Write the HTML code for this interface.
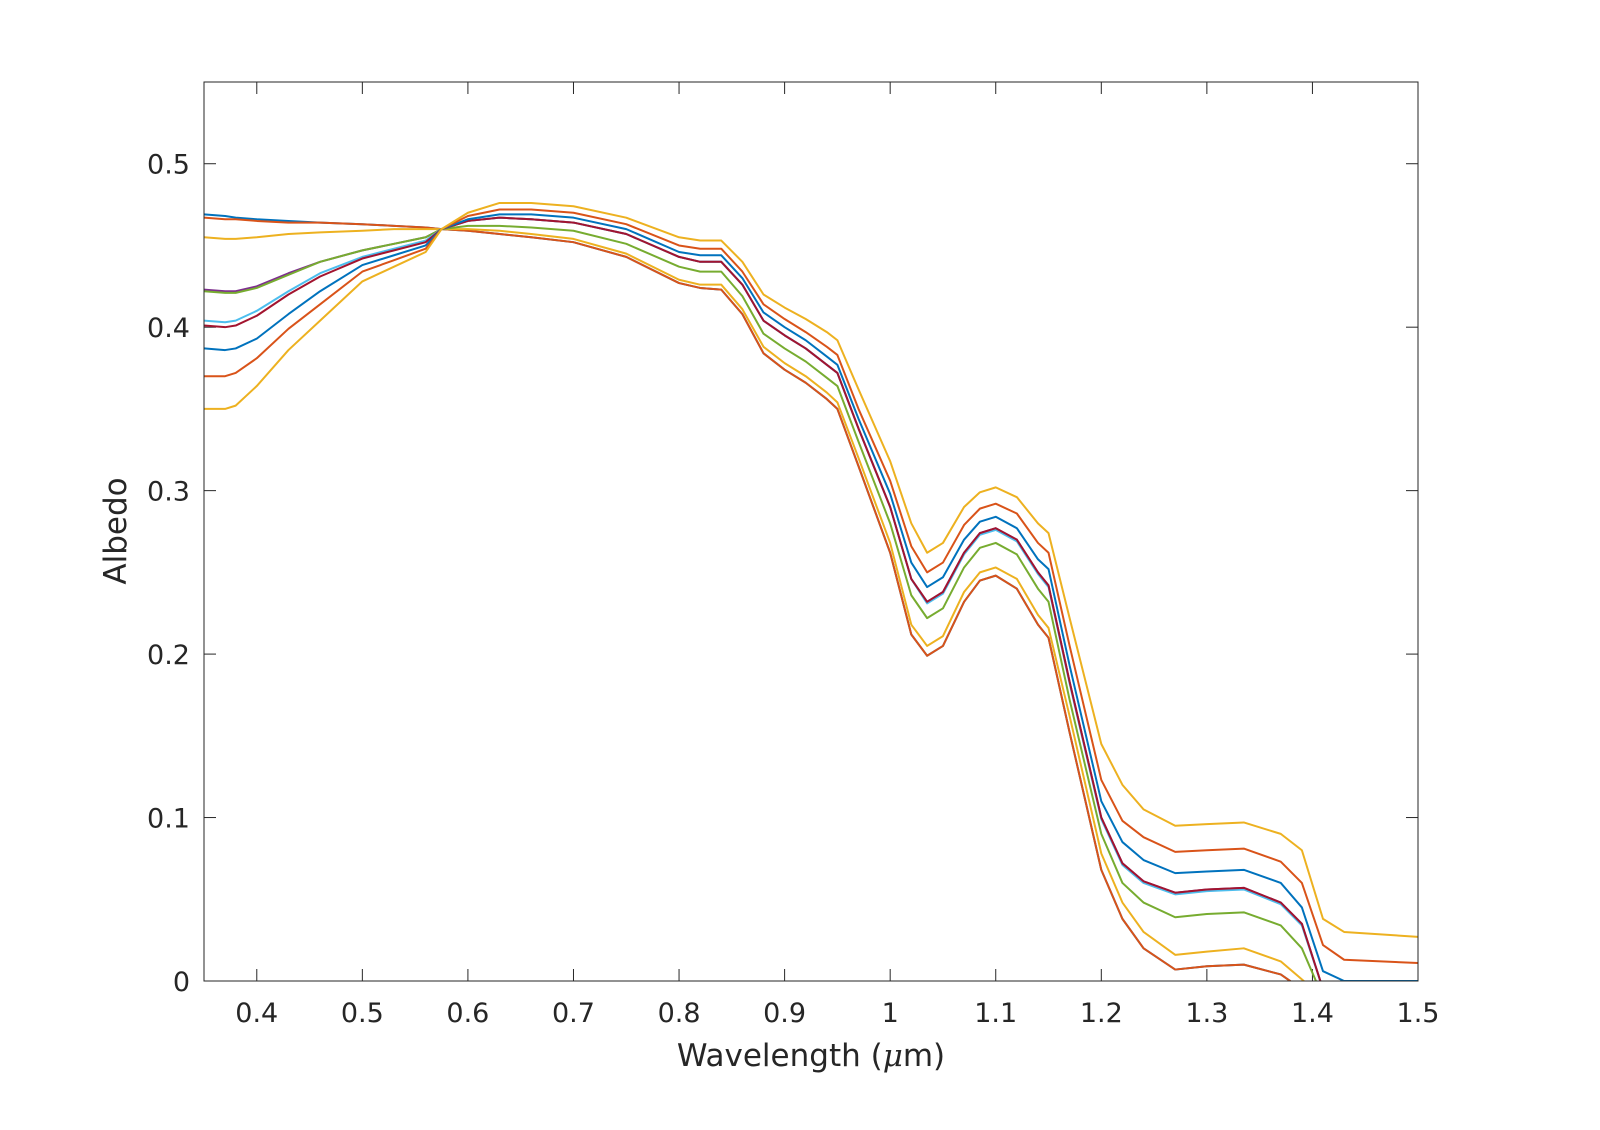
<!DOCTYPE html>
<html><head><meta charset="utf-8"><style>
html,body{margin:0;padding:0;background:#fff;}
svg text{font-family:"DejaVu Sans","Liberation Sans",sans-serif;fill:#262626;}
</style></head><body>
<svg id="chart" width="1600" height="1125" viewBox="0 0 1600 1125" xmlns="http://www.w3.org/2000/svg">
<defs><clipPath id="plotclip"><rect x="204" y="82" width="1214" height="899"/></clipPath></defs>
<rect x="0" y="0" width="1600" height="1125" fill="#fff"/>
<rect x="204" y="82" width="1214" height="899" fill="#fff"/>
<g id="grid-ticks"></g>
<g id="series" clip-path="url(#plotclip)"></g>
<rect x="204" y="82" width="1214" height="899" fill="none" stroke="#262626" stroke-width="1"/>
<g id="labels"></g>
<text x="811" y="1066" font-size="31" text-anchor="middle">Wavelength (<tspan font-style="italic" font-family="DejaVu Serif, serif">μ</tspan>m)</text>
<text x="0" y="0" font-size="31" text-anchor="middle" transform="translate(126,531) rotate(-90)">Albedo</text>
</svg>
<script>
const wavelengths = [0.35,0.37,0.38,0.40,0.43,0.46,0.50,0.53,0.56,0.575,0.60,0.63,0.66,0.70,0.75,0.80,0.82,0.84,0.86,0.88,0.90,0.92,0.94,0.95,0.97,1.00,1.02,1.035,1.05,1.07,1.085,1.10,1.12,1.14,1.15,1.17,1.20,1.22,1.24,1.27,1.30,1.335,1.37,1.39,1.41,1.43,1.5];
const xTicks = [0.4,0.5,0.6,0.7,0.8,0.9,1,1.1,1.2,1.3,1.4,1.5];
const xTickLabels = ["0.4","0.5","0.6","0.7","0.8","0.9","1","1.1","1.2","1.3","1.4","1.5"];
const yTicks = [0,0.1,0.2,0.3,0.4,0.5];
const yTickLabels = ["0","0.1","0.2","0.3","0.4","0.5"];
const seriesNames = ["blue-1","orange-1","yellow-1","purple","green","light-blue","dark-red","blue-2","orange-2","yellow-2"];
const seriesColors = ["#0072BD","#D95319","#EDB120","#7E2F8E","#77AC30","#4DBEEE","#A2142F","#0072BD","#D95319","#EDB120"];
const blue1 = [.469,.468,.467,.466,.465,.464,.463,.462,.461,.460,.459,.457,.455,.452,.443,.427,.424,.423,.408,.384,.374,.366,.356,.350,.315,.262,.212,.199,.205,.232,.245,.248,.240,.218,.210,.152,.068,.038,.020,.007,.009,.010,.004,-.005,-.02,-.03,-.05];
const orange1 = [.467,.466,.466,.465,.464,.464,.463,.462,.461,.460,.459,.457,.455,.452,.443,.427,.424,.423,.408,.384,.374,.366,.356,.350,.315,.262,.212,.199,.205,.232,.245,.248,.240,.218,.210,.152,.068,.038,.020,.007,.009,.010,.004,-.005,-.02,-.03,-.05];
const yellow1 = [.455,.454,.454,.455,.457,.458,.459,.460,.460,.460,.460,.459,.457,.454,.445,.429,.426,.426,.411,.388,.378,.370,.360,.354,.320,.268,.218,.205,.211,.238,.250,.253,.246,.224,.216,.162,.078,.048,.030,.016,.018,.020,.012,.001,-.01,-.03,-.05];
const purple = [.423,.422,.422,.425,.433,.440,.447,.451,.455,.460,.465,.467,.466,.464,.457,.443,.440,.440,.426,.404,.395,.387,.377,.372,.338,.290,.246,.232,.238,.262,.274,.277,.270,.250,.242,.183,.100,.072,.061,.054,.056,.057,.048,.035,-.005,-.03,-.05];
const green = [.422,.421,.421,.424,.432,.440,.447,.451,.455,.460,.462,.462,.461,.459,.451,.437,.434,.434,.419,.396,.387,.379,.369,.364,.330,.280,.236,.222,.228,.253,.265,.268,.261,.240,.232,.172,.090,.060,.048,.039,.041,.042,.034,.020,-.01,-.03,-.05];
const lightBlue = [.404,.403,.404,.410,.422,.433,.443,.448,.453,.460,.465,.467,.466,.464,.457,.443,.440,.440,.426,.404,.395,.387,.377,.372,.338,.290,.246,.231,.237,.261,.273,.276,.269,.249,.241,.182,.099,.071,.060,.053,.055,.056,.047,.034,-.005,-.03,-.05];
const darkRed = [.401,.400,.401,.407,.420,.431,.442,.447,.452,.460,.465,.467,.466,.464,.457,.443,.440,.440,.426,.404,.395,.387,.377,.372,.338,.290,.246,.232,.238,.262,.274,.277,.270,.250,.242,.183,.100,.072,.061,.054,.056,.057,.048,.035,-.005,-.03,-.05];
const blue2 = [.387,.386,.387,.393,.408,.422,.438,.444,.450,.460,.466,.469,.469,.467,.460,.446,.444,.444,.430,.409,.400,.392,.382,.377,.344,.298,.256,.241,.247,.270,.281,.284,.277,.258,.252,.193,.110,.085,.074,.066,.067,.068,.060,.045,.006,0,0];
const orange2 = [.370,.370,.372,.381,.399,.414,.434,.441,.448,.460,.468,.472,.472,.470,.463,.450,.448,.448,.434,.414,.405,.397,.388,.383,.350,.306,.266,.250,.256,.279,.289,.292,.286,.268,.262,.205,.123,.098,.088,.079,.080,.081,.073,.060,.022,.013,.011];
const yellow2 = [.350,.350,.352,.364,.386,.404,.428,.437,.446,.460,.470,.476,.476,.474,.467,.455,.453,.453,.440,.420,.412,.405,.397,.392,.362,.318,.280,.262,.268,.290,.299,.302,.296,.280,.274,.222,.145,.120,.105,.095,.096,.097,.090,.080,.038,.030,.027];
const allSeries = [blue1,orange1,yellow1,purple,green,lightBlue,darkRed,blue2,orange2,yellow2];

const X0=204, X1=1418, Y0=981, Y1=82;
const xMin=0.35, xMax=1.5, yMin=0, yMax=0.55;
function xs(v){return X0+(v-xMin)/(xMax-xMin)*(X1-X0);}
function ys(v){return Y0-(v-yMin)/(yMax-yMin)*(Y0-Y1);}
const NS="http://www.w3.org/2000/svg";
const tg=document.getElementById('grid-ticks');
const lg=document.getElementById('labels');
const sg=document.getElementById('series');

xTicks.forEach((t,i)=>{
  const x=xs(t);
  [[Y0,Y0-12],[Y1,Y1+12]].forEach(p=>{
    const l=document.createElementNS(NS,'line');
    l.setAttribute('x1',x);l.setAttribute('x2',x);l.setAttribute('y1',p[0]);l.setAttribute('y2',p[1]);
    l.setAttribute('stroke','#262626');l.setAttribute('stroke-width','1');
    
    
    tg.appendChild(l);
  });
  const tx=document.createElementNS(NS,'text');
  tx.setAttribute('x',x);tx.setAttribute('y',1022);tx.setAttribute('font-size','27');tx.setAttribute('text-anchor','middle');
  tx.textContent=xTickLabels[i];
  
  
  lg.appendChild(tx);
});
yTicks.forEach((t,i)=>{
  const y=ys(t);
  [[X0,X0+12],[X1,X1-12]].forEach(p=>{
    const l=document.createElementNS(NS,'line');
    l.setAttribute('x1',p[0]);l.setAttribute('x2',p[1]);l.setAttribute('y1',y);l.setAttribute('y2',y);
    l.setAttribute('stroke','#262626');l.setAttribute('stroke-width','1');
    
    
    tg.appendChild(l);
  });
  const tx=document.createElementNS(NS,'text');
  tx.setAttribute('x',190);tx.setAttribute('y',y+10);tx.setAttribute('font-size','27');tx.setAttribute('text-anchor','end');
  tx.textContent=yTickLabels[i];
  
  
  lg.appendChild(tx);
});
allSeries.forEach((s,k)=>{
  const d=s.map((v,i)=>(i?'L':'M')+xs(wavelengths[i]).toFixed(2)+','+ys(v).toFixed(2)).join(' ');
  const p=document.createElementNS(NS,'path');
  p.setAttribute('d',d);p.setAttribute('fill','none');p.setAttribute('stroke',seriesColors[k]);
  p.setAttribute('stroke-width','2');p.setAttribute('stroke-linejoin','round');
  
  
  sg.appendChild(p);
});
</script>
</body></html>
